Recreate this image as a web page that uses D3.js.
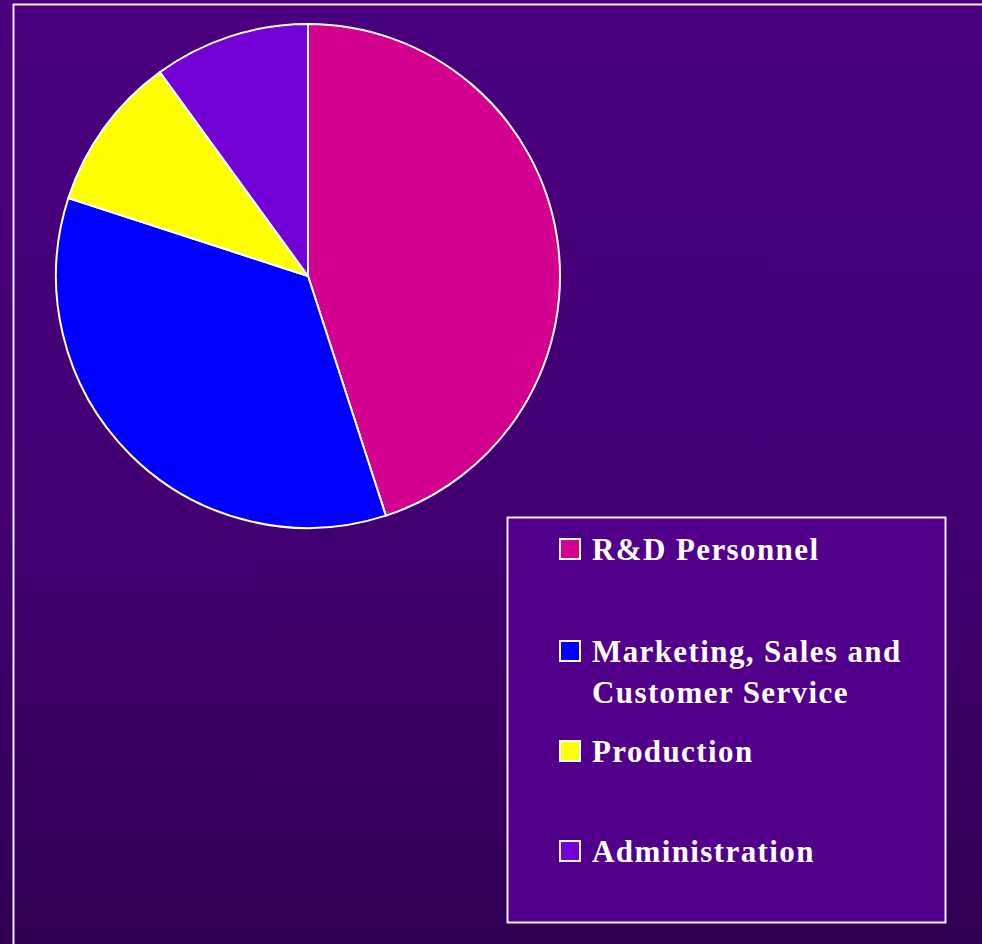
<!DOCTYPE html>
<html>
<head>
<meta charset="utf-8">
<script src="https://cdn.jsdelivr.net/npm/d3@7"></script>
<style>
  body { margin: 0; background: #3a0064; }
  svg { display: block; }
</style>
</head>
<body>
<div id="chart"></div>
<script>
// data (percent of staff)
const categories = ["R&D Personnel", "Marketing, Sales and Customer Service", "Production", "Administration"];
const values = [45, 35, 10, 10];
const legendLines = [["R&D Personnel"], ["Marketing, Sales and", "Customer Service"], ["Production"], ["Administration"]];
const sliceColors = ["#d4008f", "#0000ff", "#ffff00", "#7300d4"];

const width = 982, height = 944;

const svg = d3.select("#chart").append("svg")
    .attr("width", width)
    .attr("height", height);

// background gradient
const defs = svg.append("defs");
const grad = defs.append("linearGradient")
    .attr("id", "bg-grad")
    .attr("x1", 0).attr("y1", 0).attr("x2", 0).attr("y2", 1);
grad.append("stop").attr("offset", "0%").attr("stop-color", "#4b007f");
grad.append("stop").attr("offset", "55%").attr("stop-color", "#420073");
grad.append("stop").attr("offset", "100%").attr("stop-color", "#2f0052");

svg.append("rect")
    .attr("width", width)
    .attr("height", height)
    .attr("fill", "url(#bg-grad)");

// frame line, runs off the right and bottom edges
svg.append("path")
    .attr("d", `M13.5,${height} L13.5,4.5 L${width},4.5`)
    .attr("fill", "none")
    .attr("stroke", "#f2ecf8")
    .attr("stroke-width", 2);

// pie
const cx = 308, cy = 276, radius = 252;
const pie = d3.pie().sort(null).value(d => d);
const arc = d3.arc().innerRadius(0).outerRadius(radius);

const pieG = svg.append("g")
    .attr("transform", `translate(${cx},${cy})`);

pieG.selectAll("path")
    .data(pie(values))
    .join("path")
    .attr("d", arc)
    .attr("fill", (d, i) => sliceColors[i])
    .attr("stroke", "#ffffff")
    .attr("stroke-width", 2)
    .attr("stroke-linejoin", "round");

// legend box
const legend = svg.append("g");
legend.append("rect")
    .attr("x", 507.5)
    .attr("y", 517.5)
    .attr("width", 438)
    .attr("height", 405)
    .attr("fill", "#52008c")
    .attr("stroke", "#f2ecf8")
    .attr("stroke-width", 2);

// baseline of the first line of each entry
const entryY = [560, 662, 762, 862];

const items = legend.selectAll("g.item")
    .data(categories)
    .join("g")
    .attr("class", "item");

items.append("rect")
    .attr("x", 560)
    .attr("y", (d, i) => entryY[i] - 21)
    .attr("width", 20)
    .attr("height", 20)
    .attr("fill", (d, i) => sliceColors[i])
    .attr("stroke", "#ffffff")
    .attr("stroke-width", 2);

items.each(function (d, i) {
    const t = d3.select(this).append("text")
        .attr("x", 592)
        .attr("y", entryY[i])
        .attr("fill", "#ffffff")
        .style("font-family", "'Liberation Serif', 'Times New Roman', serif")
        .style("font-weight", "bold")
        .style("font-size", "31px")
        .style("letter-spacing", "1.4px");
    legendLines[i].forEach((line, j) => {
        t.append("tspan")
            .attr("x", 592)
            .attr("dy", j === 0 ? 0 : 41)
            .text(line);
    });
});
</script>
</body>
</html>
